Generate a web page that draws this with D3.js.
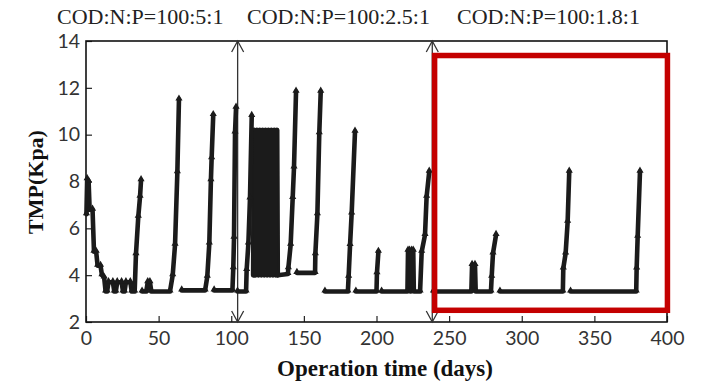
<!DOCTYPE html>
<html>
<head>
<meta charset="utf-8">
<script src="https://cdn.jsdelivr.net/npm/d3@7"></script>
<style>
  html, body { margin: 0; padding: 0; background: #fff; }
  svg { display: block; }
</style>
</head>
<body>
<svg id="chart" width="707" height="382"></svg>
<script>
// Axis ticks
const xTicks = [0, 50, 100, 150, 200, 250, 300, 350, 400];
const yTicks = [2, 4, 6, 8, 10, 12, 14];

// Nutrient ratio of each operating phase
const ratioLabels = ["COD:N:P=100:5:1", "COD:N:P=100:2.5:1", "COD:N:P=100:1.8:1"];

// Days on which the feed ratio was changed
const phaseChangeDays = [104.4, 238.4];

// Highlighted period: [day range], [TMP range]
const highlightDays = [240, 400.3];
const highlightTmp = [2.5, 13.38];

// TMP (kPa) per filtration cycle, [day, TMP]; each inner list is one cycle
const phase1 = [
  [[0.3, 6.6], [0.8, 8.1], [1.8, 8.0], [2.5, 6.8], [4.5, 6.8], [5.5, 5.0], [7, 5.0], [8, 4.4], [10, 4.4],
   [11, 4.0], [12.5, 3.9], [13.5, 3.3], [14.5, 3.3], [15.5, 3.7], [18.5, 3.7], [19.5, 3.3], [20.5, 3.3],
   [21.5, 3.7], [24.5, 3.7], [25.5, 3.3], [26.5, 3.3], [27.5, 3.7], [30.5, 3.7], [31.5, 3.3], [33.5, 3.3],
   [34.4, 4.9], [36, 6.5], [37.2, 7.35], [37.9, 8.06]],
  [[38.6, 3.3], [41.5, 3.3], [42.5, 3.7], [44, 3.7], [45, 3.3], [57.8, 3.3], [59.7, 4.0], [61.3, 5.3],
   [62.9, 8.4], [64, 11.5]],
  [[65.9, 3.35], [82, 3.35], [83.5, 3.94], [84.9, 5.36], [86, 8.06], [86.5, 9.0], [87.6, 10.84]],
  [[88.2, 3.35], [100.8, 3.35], [101.4, 4.3], [101.9, 5.6], [102.6, 10.1], [103.3, 11.15]]
];

// Rapid daily swings of TMP between backwashes (days 115-132)
const oscillation = [
  [115.2, 4.0], [115.7, 10.2], [116.7, 4.0], [117.7, 10.2], [118.7, 4.0], [119.7, 10.2], [120.7, 4.0],
  [121.7, 10.2], [122.7, 4.0], [123.7, 10.2], [124.7, 4.0], [125.7, 10.2], [126.7, 4.0], [127.7, 10.2],
  [128.7, 4.0], [129.7, 10.2], [130.7, 4.0], [131.5, 10.2], [131.9, 4.0]
];

const phase2 = [
  [[104.3, 3.3], [110.2, 3.3], [110.6, 4.22], [111.8, 5.36], [112.9, 7.28], [114.1, 10.8]],
  [[131.9, 4.0], [139, 4.05], [139.3, 4.3], [140.9, 5.3], [142.3, 7.3], [143.2, 8.6], [144.6, 11.84]],
  [[145.2, 4.1], [157.7, 4.1], [157.9, 4.9], [159.3, 6.6], [160.6, 10.06], [161.6, 11.84]],
  [[164.5, 3.3], [180.3, 3.3], [180.8, 3.94], [181.8, 5.29], [182.9, 6.64], [185.2, 10.13]],
  [[185.8, 3.3], [200, 3.3], [200.3, 4.08], [201.3, 5.0]],
  [[203.5, 3.3], [221.3, 3.3], [221.7, 5.05], [222.8, 5.05], [223.2, 3.3], [223.8, 3.3], [224.2, 5.05],
   [225.3, 5.05], [225.7, 3.3], [230, 3.3], [231.1, 5.0], [233.4, 5.72], [234.5, 7.35], [236.3, 8.42]]
];

const phase3 = [
  [[239.2, 3.3], [265.3, 3.3], [265.8, 4.44], [267.8, 4.44], [268.3, 3.3], [278.8, 3.3], [279.3, 3.94],
   [280.2, 4.93], [282.3, 5.72]],
  [[285, 3.3], [328.3, 3.3], [328.6, 4.29], [330.2, 4.93], [331.6, 6.28], [332.7, 8.42]],
  [[333.6, 3.3], [378.8, 3.3], [379.1, 4.29], [379.8, 5.64], [381.4, 8.42]]
];

// ---- layout ----
const svg = d3.select("#chart");
const plot = { left: 86, right: 667, top: 41, bottom: 322 };

const x = d3.scaleLinear().domain([0, 400]).range([plot.left, plot.right]);
const y = d3.scaleLinear().domain([2, 14]).range([plot.bottom, plot.top]);

svg.append("rect").attr("width", 707).attr("height", 382).attr("fill", "#fff");

// Axes with inward ticks
const xAxis = svg.append("g")
  .attr("transform", `translate(0,${plot.bottom})`)
  .call(d3.axisBottom(x).tickValues(xTicks).tickSizeInner(-6).tickSizeOuter(0).tickPadding(9)
        .tickFormat(d3.format("d")));
const yAxis = svg.append("g")
  .attr("transform", `translate(${plot.left},0)`)
  .call(d3.axisLeft(y).tickValues(yTicks).tickSizeInner(-6).tickSizeOuter(0).tickPadding(6)
        .tickFormat(d3.format("d")));

[xAxis, yAxis].forEach(g => {
  g.select(".domain").remove();
  g.selectAll(".tick line").attr("stroke", "#222").attr("stroke-width", 1.2);
  g.selectAll(".tick text")
    .attr("fill", "#333")
    .style("font-family", "Lato, 'Open Sans', sans-serif")
    .style("font-size", "19.5px");
});

// Plot frame
svg.append("rect")
  .attr("x", plot.left).attr("y", plot.top)
  .attr("width", plot.right - plot.left).attr("height", plot.bottom - plot.top)
  .attr("fill", "none").attr("stroke", "#111").attr("stroke-width", 1.6);

// Phase change markers: vertical double-headed arrows
const arrowG = svg.append("g").attr("stroke", "#333").attr("stroke-width", 1.3).attr("fill", "none");
phaseChangeDays.forEach(d => {
  const px = x(d);
  arrowG.append("line").attr("x1", px).attr("x2", px).attr("y1", plot.top).attr("y2", plot.bottom);
  arrowG.append("path").attr("d", `M${px - 6},${plot.top + 11}L${px},${plot.top}L${px + 6},${plot.top + 11}`);
  arrowG.append("path").attr("d", `M${px - 6},${plot.bottom - 11}L${px},${plot.bottom}L${px + 6},${plot.bottom - 11}`);
});

// TMP curves
const ink = "#1b1b1b";
const line = d3.line().x(d => x(d[0])).y(d => y(d[1]));
const tri = d3.symbol().type(d3.symbolTriangle).size(22);
const cycles = [...phase1, ...phase2, ...phase3];
const curveG = svg.append("g");

// dense oscillation: zig-zag with a heavy stroke so it reads as a solid band
curveG.append("path").datum(oscillation)
  .attr("d", line)
  .attr("fill", ink).attr("stroke", ink).attr("stroke-width", 5)
  .attr("stroke-linejoin", "round").attr("stroke-linecap", "round");
curveG.append("path").datum(oscillation)
  .attr("d", d3.area().x(d => x(d[0])).y0(y(d3.min(oscillation, d => d[1])))
        .y1(y(d3.max(oscillation, d => d[1]))))
  .attr("fill", ink);

curveG.selectAll("path.cycle").data(cycles).join("path")
  .attr("class", "cycle")
  .attr("d", line)
  .attr("fill", "none")
  .attr("stroke", ink)
  .attr("stroke-width", 4.6)
  .attr("stroke-linejoin", "round")
  .attr("stroke-linecap", "round");
curveG.selectAll("path.marker").data(cycles.flat()).join("path")
  .attr("class", "marker")
  .attr("d", tri)
  .attr("transform", d => `translate(${x(d[0])},${y(d[1]) - 1})`)
  .attr("fill", ink);

// Highlighted period
svg.append("rect")
  .attr("x", x(highlightDays[0])).attr("y", y(highlightTmp[1]))
  .attr("width", x(highlightDays[1]) - x(highlightDays[0]))
  .attr("height", y(highlightTmp[0]) - y(highlightTmp[1]))
  .attr("fill", "none").attr("stroke", "#c40000").attr("stroke-width", 5.5);

// Phase labels
const labelX = [57, 247, 457];
svg.append("g").selectAll("text").data(ratioLabels).join("text")
  .attr("x", (d, i) => labelX[i]).attr("y", 24)
  .style("font-family", "'Liberation Serif', 'Times New Roman', serif")
  .style("font-size", "22px")
  .attr("fill", "#222")
  .text(d => d);

// Axis titles
svg.append("text")
  .attr("x", 385).attr("y", 376).attr("text-anchor", "middle")
  .style("font-family", "'Liberation Serif', 'Times New Roman', serif")
  .style("font-size", "23px").style("font-weight", "bold").attr("fill", "#111")
  .text("Operation time (days)");
svg.append("text")
  .attr("transform", "translate(43,182) rotate(-90)").attr("text-anchor", "middle")
  .style("font-family", "'Liberation Serif', 'Times New Roman', serif")
  .style("font-size", "22px").style("font-weight", "bold").attr("fill", "#111")
  .text("TMP(Kpa)");
</script>
</body>
</html>
